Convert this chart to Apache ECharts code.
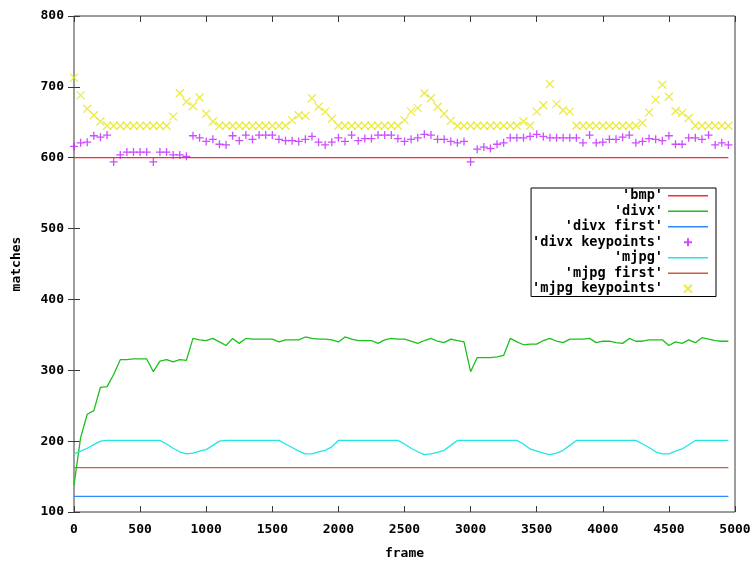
<!DOCTYPE html>
<html>
<head>
<meta charset="utf-8">
<script src="https://cdn.jsdelivr.net/npm/echarts@6/dist/echarts.min.js"></script>
<style>
  html, body { margin: 0; padding: 0; background: #fff; }
  #chart { width: 755px; height: 565px; }
</style>
</head>
<body>
<div id="chart"></div>
<script>
// samples are taken every 50 frames, 0..4950
const FRAME_STEP = 50;

const bmp = 600;
const divxFirst = 122;
const mjpgFirst = 162.5;

const divx = [
  138, 205, 238, 243, 276, 277, 294, 315, 315, 316,
  316, 316, 298, 313, 315, 312, 315, 314, 345, 343,
  342, 345, 340, 335, 345, 338, 345, 344, 344, 344,
  344, 340, 343, 343, 343, 347, 345, 344, 344, 343,
  340, 347, 344, 342, 342, 342, 338, 343, 345, 344,
  344, 341, 338, 342, 345, 341, 339, 344, 342, 340,
  298, 318, 318, 318, 319, 321, 345, 340, 336, 337,
  337, 342, 345, 341, 339, 344, 344, 344, 345, 339,
  341, 341, 339, 338, 345, 341, 341, 343, 343, 343,
  335, 340, 338, 343, 339, 346, 344, 342, 341, 341
];

const mjpg = [
  182, 186, 190, 195, 200, 201, 201, 201, 201, 201,
  201, 201, 201, 201, 196, 190, 185, 182, 183, 186,
  188, 194, 200, 201, 201, 201, 201, 201, 201, 201,
  201, 201, 196, 191, 186, 182, 182, 185, 187, 192,
  201, 201, 201, 201, 201, 201, 201, 201, 201, 201,
  196, 190, 185, 181, 182, 184, 187, 194, 201, 201,
  201, 201, 201, 201, 201, 201, 201, 201, 196, 189,
  186, 183, 181, 183, 187, 194, 201, 201, 201, 201,
  201, 201, 201, 201, 201, 201, 196, 191, 185, 182,
  182, 186, 189, 195, 201, 201, 201, 201, 201, 201
];

const divxKeypoints = [
  616, 621, 622, 631, 629, 632, 594, 604, 608, 608,
  608, 608, 594, 608, 608, 604, 604, 602, 631, 628,
  623, 626, 619, 618, 631, 624, 632, 626, 632, 632,
  632, 626, 624, 624, 623, 626, 630, 622, 618, 622,
  628, 623, 632, 624, 627, 627, 632, 632, 632, 627,
  623, 626, 628, 633, 632, 626, 626, 623, 621, 623,
  594, 612, 615, 613, 619, 621, 628, 628, 628, 630,
  633, 630, 628, 628, 628, 628, 628, 621, 632, 621,
  622, 626, 626, 629, 632, 621, 623, 627, 626, 624,
  631, 619, 619, 628, 628, 626, 632, 618, 621, 618
];

const mjpgKeypoints = [
  713, 688, 669, 660, 651, 645, 645, 645, 645, 645,
  645, 645, 645, 645, 645, 658, 691, 679, 673, 685,
  662, 651, 645, 645, 645, 645, 645, 645, 645, 645,
  645, 645, 645, 653, 660, 659, 684, 672, 665, 655,
  645, 645, 645, 645, 645, 645, 645, 645, 645, 645,
  653, 665, 670, 691, 684, 672, 662, 652, 645, 645,
  645, 645, 645, 645, 645, 645, 645, 645, 651, 645,
  665, 674, 704, 676, 667, 665, 645, 645, 645, 645,
  645, 645, 645, 645, 645, 645, 649, 664, 682, 703,
  686, 666, 663, 656, 645, 645, 645, 645, 645, 645
];

const frames = divx.map((_, i) => i * FRAME_STEP);
const pairs = vals => frames.map((f, i) => [f, vals[i]]);
const flat = v => frames.map(f => [f, v]);

const FONT = 'DejaVu Sans Mono';
const AXIS_COLOR = '#3a3a3a';
const LINE_ICON = 'path://M0,0h40v1.6h-40z';
const PLUS = 'path://M0,5L10,5M5,0L5,10';
const CROSS = 'path://M0,0L10,10M10,0L0,10';

const chart = echarts.init(document.getElementById('chart'));

const lineSeries = (name, data, color) => ({
  name, type: 'line', data, showSymbol: false, symbol: 'none',
  lineStyle: { color, width: 1.3 }, itemStyle: { color },
  xAxisIndex: 0, yAxisIndex: 0
});
const markSeries = (name, data, color, symbol) => ({
  name, type: 'scatter', data, symbol, symbolSize: 8,
  itemStyle: { color: 'transparent', borderColor: color, borderWidth: 1.3 },
  xAxisIndex: 0, yAxisIndex: 0
});

const tickStyle = { inside: true, length: 6, lineStyle: { color: AXIS_COLOR } };
const labelStyle = { fontFamily: FONT, fontWeight: 'bold', fontSize: 13, color: '#000' };

chart.setOption({
  animation: false,
  textStyle: { fontFamily: FONT },
  grid: {
    left: 74, right: 20, top: 16, bottom: 45,
    show: true, borderColor: AXIS_COLOR, borderWidth: 1
  },
  legend: {
    orient: 'vertical', align: 'right',
    right: 39, top: 188,
    padding: [0, 8, 0, 1],
    itemWidth: 40, itemHeight: 8, itemGap: 0,
    borderColor: '#000', borderWidth: 1,
    textStyle: { fontFamily: FONT, fontWeight: 'bold', fontSize: 13.6, color: '#000', lineHeight: 15.5 },
    data: [
      { name: "'bmp'", icon: LINE_ICON },
      { name: "'divx'", icon: LINE_ICON },
      { name: "'divx first'", icon: LINE_ICON },
      { name: "'divx keypoints'" },
      { name: "'mjpg'", icon: LINE_ICON },
      { name: "'mjpg first'", icon: LINE_ICON },
      { name: "'mjpg keypoints'" }
    ]
  },
  xAxis: [
    {
      type: 'value', min: 0, max: 5000, interval: 500,
      name: 'frame', nameLocation: 'middle', nameGap: 35,
      nameTextStyle: labelStyle,
      axisLine: { show: false }, axisTick: tickStyle,
      axisLabel: Object.assign({ margin: 11, formatter: v => String(v) }, labelStyle),
      splitLine: { show: false }
    },
    {
      type: 'value', min: 0, max: 5000, interval: 500, position: 'top',
      axisLine: { show: false }, axisTick: tickStyle,
      axisLabel: { show: false }, splitLine: { show: false }
    }
  ],
  yAxis: [
    {
      type: 'value', min: 100, max: 800, interval: 100,
      name: 'matches', nameLocation: 'middle', nameGap: 51, nameRotate: 90,
      nameTextStyle: labelStyle,
      axisLine: { show: false }, axisTick: tickStyle,
      axisLabel: Object.assign({ margin: 10 }, labelStyle),
      splitLine: { show: false }
    },
    {
      type: 'value', min: 100, max: 800, interval: 100, position: 'right',
      axisLine: { show: false }, axisTick: tickStyle,
      axisLabel: { show: false }, splitLine: { show: false }
    }
  ],
  series: [
    lineSeries("'bmp'", flat(bmp), '#ff2a2a'),
    lineSeries("'divx'", pairs(divx), '#1cc01c'),
    lineSeries("'divx first'", flat(divxFirst), '#2a8cff'),
    markSeries("'divx keypoints'", pairs(divxKeypoints), '#c020ff', PLUS),
    lineSeries("'mjpg'", pairs(mjpg), '#22e6e6'),
    lineSeries("'mjpg first'", flat(mjpgFirst), '#c8603a'),
    markSeries("'mjpg keypoints'", pairs(mjpgKeypoints), '#e6e61e', CROSS)
  ]
});
</script>
</body>
</html>
